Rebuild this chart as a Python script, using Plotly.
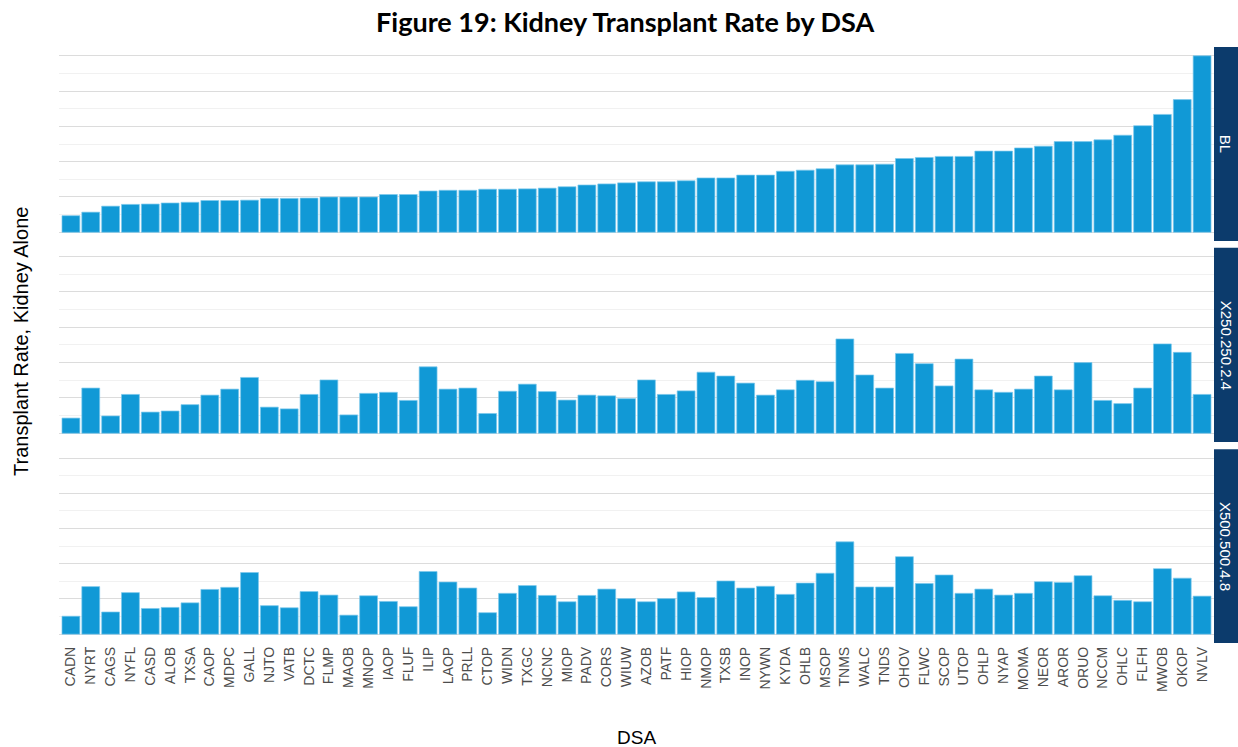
import plotly.graph_objects as go

dsa = ["CADN","NYRT","CAGS","NYFL","CASD","ALOB","TXSA","CAOP","MDPC","GALL",
       "NJTO","VATB","DCTC","FLMP","MAOB","MNOP","IAOP","FLUF","ILIP","LAOP",
       "PRLL","CTOP","WIDN","TXGC","NCNC","MIOP","PADV","CORS","WIUW","AZOB",
       "PATF","HIOP","NMOP","TXSB","INOP","NYWN","KYDA","OHLB","MSOP","TNMS",
       "WALC","TNDS","OHOV","FLWC","SCOP","UTOP","OHLP","NYAP","MOMA","NEOR",
       "AROR","ORUO","NCCM","OHLC","FLFH","MWOB","OKOP","NVLV"]

bl = [0.47,0.57,0.74,0.79,0.80,0.83,0.85,0.90,0.90,0.91,0.96,0.96,0.97,1.00,1.00,1.00,1.07,1.07,1.17,1.19,
      1.19,1.22,1.22,1.23,1.25,1.29,1.34,1.37,1.40,1.43,1.43,1.46,1.54,1.54,1.62,1.62,1.73,1.76,1.80,1.91,
      1.91,1.93,2.09,2.12,2.15,2.15,2.30,2.30,2.39,2.44,2.57,2.57,2.62,2.75,3.02,3.34,3.76,5.00]

x250 = [0.43,1.28,0.49,1.10,0.60,0.63,0.81,1.08,1.25,1.58,0.74,0.69,1.10,1.51,0.52,1.13,1.16,0.93,1.88,1.25,
        1.28,0.56,1.19,1.39,1.18,0.94,1.08,1.06,0.98,1.51,1.10,1.20,1.73,1.62,1.42,1.08,1.23,1.50,1.46,2.67,
        1.65,1.28,2.26,1.97,1.34,2.10,1.23,1.16,1.25,1.62,1.23,2.00,0.93,0.84,1.28,2.53,2.29,1.10]

x500 = [0.51,1.35,0.63,1.18,0.73,0.76,0.89,1.27,1.33,1.75,0.81,0.75,1.21,1.11,0.54,1.09,0.93,0.78,1.78,1.48,
        1.31,0.61,1.16,1.38,1.10,0.92,1.10,1.28,1.01,0.92,1.01,1.20,1.04,1.51,1.31,1.36,1.13,1.45,1.73,2.62,
        1.34,1.34,2.20,1.44,1.68,1.16,1.28,1.11,1.16,1.49,1.47,1.66,1.09,0.96,0.92,1.86,1.59,1.08]

panel_labels = ["BL", "X250.250.2.4", "X500.500.4.8"]
series = [bl, x250, x500]

W, H = 1238, 747
ml, mr, mt, mb = 59, 24, 47, 104
plot_h = H - mt - mb
plot_w = W - ml - mr

def frac(px):
    return (H - mb - px) / plot_h

domains = [
    [frac(241.1), 1.0],
    [frac(442.1), frac(247.8)],
    [0.0, frac(449.2)],
]

fig = go.Figure()
bar_fill = "#1199D6"
bar_line = "#7CC8EC"

for i, vals in enumerate(series):
    n = i + 1
    fig.add_trace(go.Bar(
        x=dsa, y=vals,
        xaxis="x" if n == 1 else f"x{n}",
        yaxis="y" if n == 1 else f"y{n}",
        marker=dict(color=bar_fill, line=dict(color=bar_line, width=0.7)),
        showlegend=False,
        hoverinfo="x+y",
    ))

layout = dict(
    width=W, height=H,
    margin=dict(l=ml, r=mr, t=mt, b=mb),
    paper_bgcolor="white", plot_bgcolor="white",
    bargap=0.1,
    title=dict(text="<b>Figure 19: Kidney Transplant Rate by DSA</b>",
               x=0.505, xref="container", xanchor="center",
               y=1 - 23 / H, yref="container", yanchor="middle",
               font=dict(family="Lato, Carlito, sans-serif", size=27, color="black")),
    font=dict(family="Liberation Sans, Arial, sans-serif"),
)

for i in range(3):
    n = i + 1
    xk = "xaxis" if n == 1 else f"xaxis{n}"
    yk = "yaxis" if n == 1 else f"yaxis{n}"
    layout[xk] = dict(
        domain=[0, 1],
        anchor="y" if n == 1 else f"y{n}",
        matches="x" if n > 1 else None,
        type="category",
        categoryorder="array", categoryarray=dsa,
        range=[-0.6, len(dsa) - 0.4],
        showgrid=False, zeroline=False, showline=False,
        ticks="", ticklen=0,
        showticklabels=(n == 3),
        tickangle=-90,
        tickfont=dict(size=14, color="#4D4D4D", family="Liberation Sans, Arial, sans-serif"),
    )
    layout[yk] = dict(
        domain=domains[i],
        anchor="x" if n == 1 else f"x{n}",
        range=[-0.25, 5.25],
        dtick=1, tick0=0,
        showgrid=True, gridcolor="#DCDCDC", gridwidth=1.2,
        minor=dict(dtick=0.5, tick0=0, showgrid=True, gridcolor="#F1F1F1", gridwidth=1),
        zeroline=False, showline=False, ticks="",
        showticklabels=False,
    )

fig.update_layout(**layout)

shapes = []
annotations = []
strip_w = 24.4 / plot_w
for i, lab in enumerate(panel_labels):
    yref = "y domain" if i == 0 else f"y{i+1} domain"
    shapes.append(dict(type="rect", xref="paper", yref=yref,
                       x0=1.0, x1=1.0 + strip_w, y0=0, y1=1,
                       fillcolor="#0C3B6C", line=dict(width=0), layer="above"))
    annotations.append(dict(text=lab, xref="paper", yref=yref,
                            x=1.0 + strip_w / 2, y=0.5, showarrow=False,
                            textangle=90, xanchor="center", yanchor="middle",
                            font=dict(size=15, color="white",
                                      family="Liberation Sans, Arial, sans-serif")))

annotations.append(dict(text="Transplant Rate, Kidney Alone", xref="paper", yref="paper",
                        x=(21 - ml) / plot_w, y=frac(342), showarrow=False, textangle=-90,
                        xanchor="center", yanchor="middle",
                        font=dict(size=20, color="black", family="Liberation Sans, Arial, sans-serif")))
annotations.append(dict(text="DSA", xref="paper", yref="paper",
                        x=(636 - ml) / plot_w, y=frac(737), showarrow=False,
                        xanchor="center", yanchor="middle",
                        font=dict(size=19, color="black", family="Liberation Sans, Arial, sans-serif")))

fig.update_layout(shapes=shapes, annotations=annotations)

fig.write_html("out.html",
               config={"displayModeBar": False},
               post_script="document.body.style.margin='0';document.body.style.overflow='hidden';")
